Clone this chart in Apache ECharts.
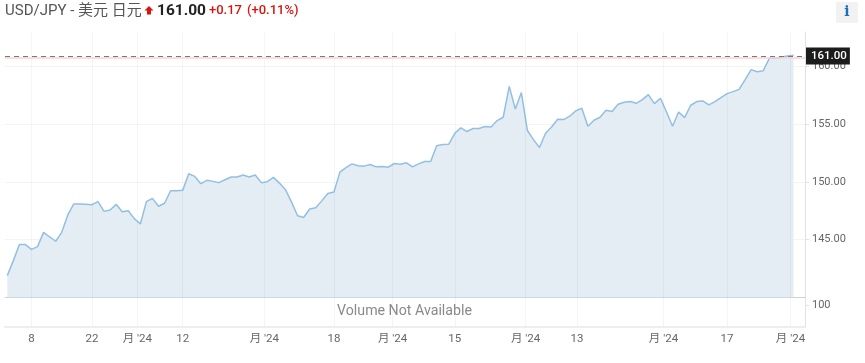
<!DOCTYPE html>
<html><head><meta charset="utf-8">
<style>html,body{margin:0;padding:0;background:#fff}#c{width:865px;height:363px}</style>
<script src="https://cdn.jsdelivr.net/npm/echarts@6/dist/echarts.min.js"></script>
</head><body><div id="c"></div>
<script>
const prices = [141.88,143.18,144.57,144.57,144.16,144.39,145.63,145.23,144.86,145.63,147.14,148.09,148.09,148.06,148.03,148.29,147.45,147.57,148.06,147.42,147.51,146.82,146.36,148.29,148.58,147.89,148.15,149.24,149.24,149.27,150.71,150.48,149.85,150.14,150.05,149.94,150.19,150.43,150.43,150.6,150.43,150.6,149.94,150.02,150.4,149.9,149.33,148.25,147.07,146.92,147.65,147.76,148.36,149.0,149.12,150.85,151.25,151.57,151.40,151.37,151.51,151.31,151.34,151.28,151.60,151.54,151.66,151.31,151.57,151.77,151.77,153.13,153.24,153.27,154.22,154.69,154.37,154.63,154.63,154.80,154.77,155.32,155.61,158.29,156.33,157.75,154.46,153.67,152.98,154.22,154.77,155.44,155.41,155.70,156.16,156.39,154.83,155.35,155.61,156.22,156.10,156.74,156.91,156.97,156.82,157.14,157.57,156.79,157.26,156.07,154.83,156.07,155.58,156.65,156.97,157.02,156.68,156.97,157.31,157.66,157.83,158.03,158.87,159.74,159.56,159.65,160.72,160.72,160.83,160.92,160.98];
const tickPositions = [4,14,21.5,29,42.5,54,63.7,74,85.7,94.2,108.5,119,129.5];
const tickLabels = ['8','22',"月 '24",'12',"月 '24",'18',"月 '24",'15',"月 '24",'13',"月 '24",'17',"月 '24"];
const priceTicks = [145,150,155,160];
const volumeTicks = [100];
const lastPrice = 160.93, prevClose = 160.8;
const font = 'Roboto, "Noto Sans CJK SC", sans-serif';
const seriesData = prices.map((v,i)=>[i,v]);
const xMin = -0.38, xMax = 131.9;
const vLines = tickPositions.map(x=>({xAxis:x,lineStyle:{color:'rgba(60,80,110,0.055)',type:'solid',width:1},label:{show:false}}));
const chart = echarts.init(document.getElementById('c'), null, {renderer:'canvas'});
chart.setOption({
  animation:false,
  graphic:[
    {type:'text',style:{x:5,y:11,text:'USD/JPY - 美元 日元',fill:'#555',font:'15px '+font,verticalAlign:'middle'}},
    {type:'polygon',shape:{points:[[149,6],[153.5,10.5],[151,10.5],[151,14.5],[147,14.5],[147,10.5],[144.5,10.5]]},style:{fill:'#d9140e'}},
    {type:'text',style:{x:157,y:11,text:'161.00',fill:'#222',font:'bold 15.5px '+font,verticalAlign:'middle'}},
    {type:'text',style:{x:209,y:11,text:'+0.17',fill:'#d9140e',font:'500 13px '+font,verticalAlign:'middle'}},
    {type:'text',style:{x:247,y:11,text:'(+0.11%)',fill:'#d9140e',font:'500 13px '+font,verticalAlign:'middle'}},
    {type:'rect',shape:{x:836,y:2,width:22,height:21},style:{fill:'#f2f2f2'}},
    {type:'text',style:{x:847,y:12.5,text:'i',fill:'#1f6fb8',font:'bold 14px "DejaVu Serif"',align:'center',verticalAlign:'middle'}},
    {type:'text',style:{x:404.5,y:311.5,text:'Volume Not Available',fill:'#8a8a8a',font:'14.2px '+font,align:'center',verticalAlign:'middle'}}
  ],
  grid:[
    {left:5,right:60,top:32,height:265.3},
    {left:5,right:60,top:297.3,height:29}
  ],
  xAxis:[
    {type:'value',gridIndex:0,min:xMin,max:xMax,
      axisLine:{show:true,onZero:false,lineStyle:{color:'#cdd2d8',width:1}},axisLabel:{show:false},axisTick:{show:false},
      splitLine:{show:false}},
    {type:'value',gridIndex:1,min:xMin,max:xMax,
      axisLine:{show:true,onZero:false,lineStyle:{color:'#eceef2',width:2}},
      axisTick:{show:false,customValues:tickPositions},
      splitLine:{show:false},
      axisLabel:{show:true,customValues:tickPositions,margin:7,color:'#666',fontFamily:font,fontSize:11.5,hideOverlap:false,
        showMinLabel:true,showMaxLabel:true,
        formatter:v=>tickLabels[tickPositions.indexOf(v)]||''}}
  ],
  yAxis:[
    {type:'value',gridIndex:0,position:'right',min:140,max:163,interval:5,
      axisLine:{show:true,onZero:false,lineStyle:{color:'#dfe3e8'}},
      axisTick:{show:true,length:4,customValues:priceTicks,lineStyle:{color:'#dfe3e8'}},
      splitLine:{show:true,lineStyle:{color:'#f3f4f6'}},
      axisLabel:{customValues:priceTicks,margin:7,color:'#666',fontFamily:font,fontSize:11,formatter:v=>v.toFixed(2)}},
    {type:'value',gridIndex:1,position:'right',min:0,max:140,
      axisLine:{show:true,onZero:false,lineStyle:{color:'#dfe3e8'}},
      axisTick:{show:true,length:4,customValues:volumeTicks,lineStyle:{color:'#dfe3e8'}},
      splitLine:{show:false},
      axisLabel:{customValues:volumeTicks,margin:7,color:'#666',fontFamily:font,fontSize:11}}
  ],
  series:[{
    type:'line',xAxisIndex:0,yAxisIndex:0,data:seriesData,showSymbol:false,smooth:false,
    lineStyle:{color:'#93c0e2',width:1.5},
    areaStyle:{color:'#e4edf4',opacity:1,origin:'start'},
    z:3,
    markLine:{silent:true,symbol:'none',animation:false,precision:2,
      data:vLines.concat([
        {yAxis:prevClose,lineStyle:{color:'#fbd2cf',type:'solid',width:1.5},label:{show:false}},
        {yAxis:lastPrice,lineStyle:{color:'#777',type:[5,4],width:1},
          label:{show:true,position:'end',distance:1,formatter:'161.00',color:'#fff',backgroundColor:'#1c1c1c',
            padding:[2,3,2,5],lineHeight:13,fontFamily:font,fontSize:11.5,fontWeight:500}}
      ])}
  },{
    type:'line',xAxisIndex:1,yAxisIndex:1,data:[],showSymbol:false,
    markLine:{silent:true,symbol:'none',animation:false,data:vLines}
  }]
});
</script></body></html>
